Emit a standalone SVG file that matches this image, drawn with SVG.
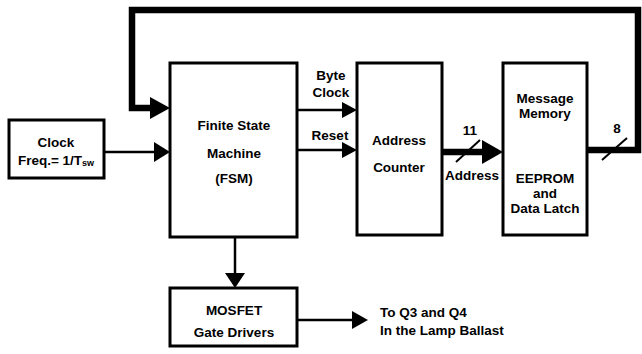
<svg xmlns="http://www.w3.org/2000/svg" width="642" height="354" viewBox="0 0 642 354">
<style>
.box{fill:#fff;stroke:#000;stroke-width:3}
.t{font-family:"Liberation Sans",Arial,sans-serif;font-weight:bold;font-size:13.5px;fill:#000;text-anchor:middle;dominant-baseline:central}
.tl{font-family:"Liberation Sans",Arial,sans-serif;font-weight:bold;font-size:13.5px;fill:#000;dominant-baseline:central}
.thin{fill:none;stroke:#000;stroke-width:2.5}
.bus{fill:none;stroke:#000;stroke-width:6.5}
.head{fill:#000}
</style>
<rect width="642" height="354" fill="#fff"/>
<g id="connectors">
  <path class="bus" d="M587,150 H638 V10 H132 V108 H152"/>
  <polygon class="head" points="150,97 170,108 150,119"/>
  <path class="thin" d="M104,152 H156"/>
  <polygon class="head" points="154,142 170,152 154,162"/>
  <path class="thin" d="M296,110 H344"/>
  <polygon class="head" points="342,102 357,110 342,118"/>
  <path class="thin" d="M296,150 H344"/>
  <polygon class="head" points="342,142 357,150 342,158"/>
  <path class="bus" d="M442,152 H484"/>
  <polygon class="head" points="482,140 503,152 482,164"/>
  <line x1="456" y1="162" x2="480" y2="140" stroke="#000" stroke-width="2"/>
  <line x1="602" y1="160" x2="627" y2="138" stroke="#000" stroke-width="2"/>
  <path class="thin" d="M235,237 V275"/>
  <polygon class="head" points="225,273 235,288 245,273"/>
  <path class="thin" d="M297,320 H354"/>
  <polygon class="head" points="352,311 368,320 352,329"/>
</g>
<g id="clock">
  <rect class="box" x="9" y="120" width="95" height="58"/>
  <text class="t" x="56" y="142">Clock</text>
  <text class="t" x="56" y="160">Freq.= 1/T<tspan font-size="9" dy="3">sw</tspan></text>
</g>
<g id="fsm">
  <rect class="box" x="170" y="63" width="127" height="174"/>
  <text class="t" x="234" y="125">Finite State</text>
  <text class="t" x="234" y="153">Machine</text>
  <text class="t" x="234" y="178">(FSM)</text>
</g>
<g id="counter">
  <rect class="box" x="357" y="63" width="85" height="172"/>
  <text class="t" x="399" y="140">Address</text>
  <text class="t" x="399" y="167">Counter</text>
</g>
<g id="memory">
  <rect class="box" x="503" y="63" width="84" height="172"/>
  <text class="t" x="545" y="98">Message</text>
  <text class="t" x="545" y="113">Memory</text>
  <text class="t" x="545" y="178">EEPROM</text>
  <text class="t" x="545" y="193">and</text>
  <text class="t" x="545" y="208">Data Latch</text>
</g>
<g id="mosfet">
  <rect class="box" x="170" y="288" width="127" height="58"/>
  <text class="t" x="234" y="310">MOSFET</text>
  <text class="t" x="234" y="332">Gate Drivers</text>
</g>
<g id="labels">
  <text class="t" x="331" y="75">Byte</text>
  <text class="t" x="331" y="92">Clock</text>
  <text class="t" x="330" y="135">Reset</text>
  <text class="t" x="470" y="130">11</text>
  <text class="t" x="472" y="175">Address</text>
  <text class="t" x="617" y="128">8</text>
  <text class="tl" x="380" y="312">To Q3 and Q4</text>
  <text class="tl" x="380" y="330">In the Lamp Ballast</text>
</g>
</svg>
